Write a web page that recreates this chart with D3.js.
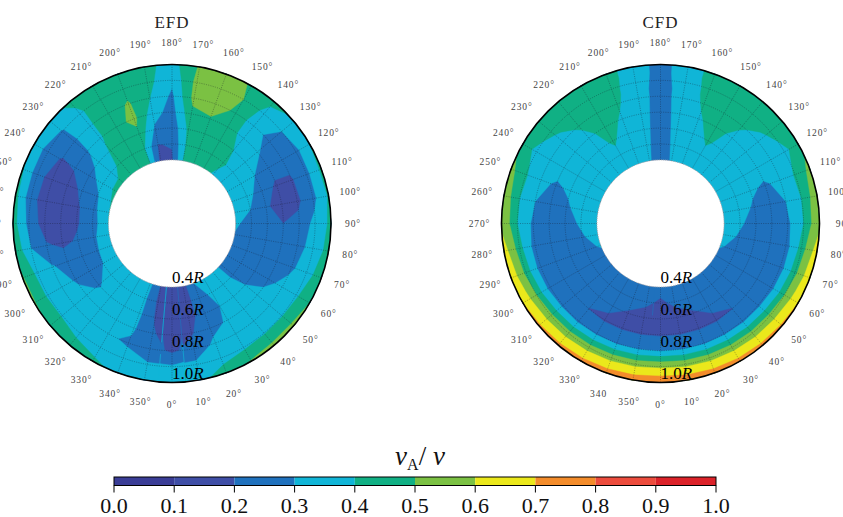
<!DOCTYPE html>
<html lang="en">
<head>
<meta charset="utf-8" />
<title>EFD / CFD polar contours</title>
<script src="https://cdn.jsdelivr.net/npm/d3@7"></script>
<style>
body { margin: 0; background: #fff; }
text { font-family: "Liberation Serif", "DejaVu Serif", serif; }
</style>
</head>
<body>
<script>

// angle of each column (0 at the bottom, counter-clockwise towards the right)
var angles = [0, 10, 20, 30, 40, 50, 60, 70, 80, 90, 100, 110, 120, 130, 140, 150, 160, 170,
              180, 190, 200, 210, 220, 230, 240, 250, 260, 270, 280, 290, 300, 310, 320, 330, 340, 350];

// EFD: one row per angle, values at radii 0.4R .. 1.0R
var efdRadii = [0.4, 0.5, 0.6, 0.7, 0.8, 0.9, 1.0];
var efdValues = [
  [0.15, 0.14, 0.14, 0.15, 0.18, 0.31, 0.36],  // 0
  [0.16, 0.16, 0.17, 0.19, 0.24, 0.32, 0.37],  // 10
  [0.30, 0.26, 0.24, 0.27, 0.32, 0.36, 0.45],  // 20
  [0.34, 0.32, 0.30, 0.31, 0.34, 0.38, 0.51],  // 30
  [0.36, 0.35, 0.35, 0.36, 0.37, 0.39, 0.53],  // 40
  [0.27, 0.28, 0.30, 0.33, 0.36, 0.39, 0.53],  // 50
  [0.24, 0.23, 0.24, 0.27, 0.33, 0.38, 0.50],  // 60
  [0.26, 0.22, 0.22, 0.23, 0.28, 0.36, 0.45],  // 70
  [0.29, 0.23, 0.21, 0.21, 0.26, 0.34, 0.43],  // 80
  [0.32, 0.25, 0.22, 0.20, 0.23, 0.33, 0.42],  // 90
  [0.36, 0.30, 0.21, 0.17, 0.18, 0.27, 0.41],  // 100
  [0.38, 0.33, 0.26, 0.18, 0.19, 0.27, 0.42],  // 110
  [0.40, 0.36, 0.30, 0.25, 0.23, 0.27, 0.40],  // 120
  [0.38, 0.37, 0.34, 0.31, 0.27, 0.30, 0.39],  // 130
  [0.39, 0.41, 0.40, 0.37, 0.34, 0.37, 0.42],  // 140
  [0.43, 0.45, 0.45, 0.44, 0.48, 0.50, 0.49],  // 150
  [0.44, 0.46, 0.47, 0.49, 0.55, 0.56, 0.55],  // 160
  [0.40, 0.40, 0.42, 0.47, 0.53, 0.53, 0.51],  // 170
  [0.18, 0.21, 0.23, 0.26, 0.28, 0.32, 0.36],  // 180
  [0.16, 0.195, 0.28, 0.34, 0.40, 0.43, 0.43], // 190
  [0.40, 0.40, 0.47, 0.53, 0.51, 0.46, 0.45],  // 200
  [0.42, 0.44, 0.46, 0.46, 0.45, 0.44, 0.44],  // 210
  [0.43, 0.42, 0.41, 0.39, 0.39, 0.39, 0.41],  // 220
  [0.42, 0.37, 0.32, 0.29, 0.28, 0.29, 0.38],  // 230
  [0.43, 0.33, 0.27, 0.21, 0.19, 0.25, 0.38],  // 240
  [0.41, 0.29, 0.22, 0.15, 0.15, 0.24, 0.41],  // 250
  [0.40, 0.27, 0.19, 0.13, 0.15, 0.23, 0.43],  // 260
  [0.40, 0.25, 0.19, 0.14, 0.15, 0.27, 0.44],  // 270
  [0.39, 0.28, 0.21, 0.18, 0.21, 0.30, 0.47],  // 280
  [0.38, 0.29, 0.24, 0.25, 0.31, 0.37, 0.51],  // 290
  [0.37, 0.30, 0.27, 0.29, 0.34, 0.38, 0.51],  // 300
  [0.38, 0.33, 0.29, 0.32, 0.35, 0.39, 0.49],  // 310
  [0.37, 0.35, 0.34, 0.33, 0.33, 0.37, 0.45],  // 320
  [0.36, 0.35, 0.34, 0.33, 0.31, 0.35, 0.42],  // 330
  [0.33, 0.32, 0.32, 0.31, 0.29, 0.33, 0.38],  // 340
  [0.19, 0.18, 0.19, 0.21, 0.24, 0.31, 0.36]   // 350
];

// CFD: finer rows near the wall
var cfdRadii = [0.4, 0.5, 0.6, 0.7, 0.8, 0.85, 0.9, 0.95, 1.0];
var cfdValues = [
  [0.22, 0.19, 0.17, 0.19, 0.29, 0.44, 0.58, 0.68, 0.78],   // 0
  [0.23, 0.21, 0.18, 0.19, 0.29, 0.43, 0.57, 0.67, 0.76],   // 10
  [0.24, 0.22, 0.195, 0.19, 0.28, 0.42, 0.56, 0.66, 0.75],  // 20
  [0.24, 0.23, 0.21, 0.19, 0.28, 0.41, 0.55, 0.65, 0.74],   // 30
  [0.25, 0.24, 0.23, 0.198, 0.27, 0.40, 0.54, 0.64, 0.73],  // 40
  [0.26, 0.25, 0.24, 0.23, 0.27, 0.39, 0.53, 0.63, 0.72],   // 50
  [0.27, 0.26, 0.25, 0.24, 0.26, 0.36, 0.50, 0.61, 0.70],   // 60
  [0.31, 0.27, 0.26, 0.25, 0.26, 0.34, 0.47, 0.58, 0.67],   // 70
  [0.34, 0.29, 0.26, 0.25, 0.27, 0.33, 0.44, 0.56, 0.64],   // 80
  [0.36, 0.31, 0.27, 0.25, 0.28, 0.34, 0.40, 0.50, 0.58],   // 90
  [0.38, 0.33, 0.29, 0.27, 0.30, 0.35, 0.40, 0.49, 0.56],   // 100
  [0.39, 0.35, 0.31, 0.29, 0.32, 0.36, 0.41, 0.47, 0.53],   // 110
  [0.39, 0.37, 0.35, 0.33, 0.34, 0.36, 0.38, 0.41, 0.47],   // 120
  [0.38, 0.37, 0.36, 0.35, 0.37, 0.39, 0.42, 0.44, 0.46],   // 130
  [0.37, 0.37, 0.37, 0.38, 0.41, 0.43, 0.44, 0.45, 0.46],   // 140
  [0.36, 0.38, 0.41, 0.43, 0.44, 0.45, 0.45, 0.45, 0.45],   // 150
  [0.35, 0.36, 0.37, 0.39, 0.41, 0.42, 0.42, 0.42, 0.42],   // 160
  [0.31, 0.32, 0.33, 0.34, 0.35, 0.35, 0.36, 0.37, 0.37],   // 170
  [0.25, 0.25, 0.25, 0.25, 0.25, 0.25, 0.25, 0.25, 0.25],   // 180
  [0.31, 0.32, 0.33, 0.34, 0.35, 0.35, 0.36, 0.37, 0.37],   // 190
  [0.35, 0.36, 0.37, 0.39, 0.41, 0.42, 0.42, 0.42, 0.42],   // 200
  [0.36, 0.38, 0.41, 0.43, 0.44, 0.45, 0.45, 0.45, 0.45],   // 210
  [0.37, 0.37, 0.37, 0.38, 0.41, 0.43, 0.44, 0.45, 0.46],   // 220
  [0.38, 0.37, 0.36, 0.35, 0.37, 0.39, 0.42, 0.44, 0.46],   // 230
  [0.39, 0.37, 0.35, 0.33, 0.34, 0.36, 0.38, 0.41, 0.47],   // 240
  [0.39, 0.35, 0.31, 0.29, 0.32, 0.36, 0.41, 0.47, 0.53],   // 250
  [0.38, 0.33, 0.29, 0.27, 0.30, 0.35, 0.40, 0.49, 0.56],   // 260
  [0.36, 0.31, 0.27, 0.25, 0.28, 0.34, 0.40, 0.50, 0.58],   // 270
  [0.34, 0.29, 0.26, 0.25, 0.27, 0.33, 0.44, 0.56, 0.64],   // 280
  [0.31, 0.27, 0.26, 0.25, 0.26, 0.34, 0.47, 0.58, 0.67],   // 290
  [0.27, 0.26, 0.25, 0.24, 0.26, 0.36, 0.50, 0.61, 0.70],   // 300
  [0.26, 0.25, 0.24, 0.23, 0.27, 0.39, 0.53, 0.63, 0.72],   // 310
  [0.25, 0.24, 0.23, 0.198, 0.27, 0.40, 0.54, 0.64, 0.73],  // 320
  [0.24, 0.23, 0.21, 0.19, 0.28, 0.41, 0.55, 0.65, 0.74],   // 330
  [0.24, 0.22, 0.195, 0.19, 0.28, 0.42, 0.56, 0.66, 0.75],  // 340
  [0.23, 0.21, 0.18, 0.19, 0.29, 0.43, 0.57, 0.67, 0.76]    // 350
];

// colour levels of the bar
var levels = [0.0, 0.1, 0.2, 0.3, 0.4, 0.5, 0.6, 0.7, 0.8, 0.9, 1.0];
var levelColors = ["#3a3d96", "#3f4ea6", "#1f71bd", "#10b5d7", "#10b084",
                   "#7bc143", "#ebe81b", "#f38c2b", "#ec4c3d", "#db2229"];
var tickLabels = ["0.0", "0.1", "0.2", "0.3", "0.4", "0.5", "0.6", "0.7", "0.8", "0.9", "1.0"];

var efdAngleLabels = ["0°", "10°", "20°", "30°", "40°", "50°", "60°", "70°", "80°", "90°",
  "100°", "110°", "120°", "130°", "140°", "150°", "160°", "170°", "180°", "190°", "200°",
  "210°", "220°", "230°", "240°", "250°", "260°", "270°", "280°", "290°", "300°", "310°",
  "320°", "330°", "340°", "350°"];
var cfdAngleLabels = ["0°", "10°", "20°", "30°", "40°", "50°", "60°", "70°", "80°", "90",
  "100°", "110°", "120°", "130°", "140°", "150°", "160°", "170°", "180°", "190°", "200°",
  "210°", "220°", "230°", "240°", "250°", "260°", "270°", "280°", "290°", "300°", "310°",
  "320°", "330°", "340", "350°"];
var radiusLabels = ["0.4", "0.6", "0.8", "1.0"];
var radiusLabelPos = [0.4, 0.6, 0.8, 1.0];
var meshRings = [0.5, 0.6, 0.7, 0.8, 0.9];

var w = 843, h = 517;
var R = 159;

var svg = d3.select("body")
    .append("svg")
    .attr("width", w)
    .attr("height", h);

function drawPolar(cx, cy, radii, values, angleLabels, title) {
  var g = svg.append("g");
  var pad = 2;                       // wrapped columns on each side
  var nA = angles.length, nR = radii.length;
  var dx = nA + 2 * pad + 1;

  // grid for d3.contours: x = angle column (wrapped), y = radius row
  var grid = new Array(dx * nR);
  for (var j = 0; j < nR; j++) {
    for (var i = 0; i < dx; i++) {
      var a = ((i - pad) % nA + nA) % nA;
      grid[j * dx + i] = values[a][j];
    }
  }

  var angScale = d3.scaleLinear()
      .domain([pad, pad + nA + 1])
      .range([-5, 365])
      .clamp(true);
  var radScale = d3.scaleLinear()
      .domain(radii.map(function(d, i) { return i + 0.5; }))
      .range(radii)
      .clamp(true);

  function project(p) {
    var t = angScale(p[0]) * Math.PI / 180;
    var r = radScale(p[1]) * R;
    return [cx + r * Math.sin(t), cy + r * Math.cos(t)];
  }
  function polar(deg, r) {
    var t = deg * Math.PI / 180;
    return [cx + r * Math.sin(t), cy + r * Math.cos(t)];
  }

  var bands = d3.contours()
      .size([dx, nR])
      .thresholds(levels.slice(0, levelColors.length))(grid);

  g.append("g").selectAll("path")
      .data(bands)
    .enter().append("path")
      .attr("d", function(c) {
        var s = "";
        c.coordinates.forEach(function(poly) {
          poly.forEach(function(ring) {
            s += "M" + ring.map(function(p) {
              var q = project(p);
              return q[0].toFixed(2) + "," + q[1].toFixed(2);
            }).join("L") + "Z";
          });
        });
        return s;
      })
      .attr("fill", function(c, i) { return levelColors[i]; })
      .attr("stroke", function(c, i) { return levelColors[i]; })
      .attr("stroke-width", 0.4);

  // dotted mesh
  var mesh = g.append("g")
      .attr("fill", "none")
      .attr("stroke", "#1a1a2a")
      .attr("stroke-width", 0.6)
      .attr("stroke-dasharray", "1,1.3")
      .attr("opacity", 0.6);
  mesh.selectAll("circle")
      .data(meshRings)
    .enter().append("circle")
      .attr("cx", cx).attr("cy", cy)
      .attr("r", function(d) { return d * R; });
  mesh.selectAll("line")
      .data(angles)
    .enter().append("line")
      .attr("x1", function(d) { return polar(d, 0.4 * R)[0]; })
      .attr("y1", function(d) { return polar(d, 0.4 * R)[1]; })
      .attr("x2", function(d) { return polar(d, R)[0]; })
      .attr("y2", function(d) { return polar(d, R)[1]; });

  // hole and wall
  g.append("circle")
      .attr("cx", cx).attr("cy", cy).attr("r", 0.4 * R)
      .attr("fill", "#fff")
      .attr("stroke", "#aaa")
      .attr("stroke-width", 1)
      .attr("stroke-dasharray", "1,1");
  g.append("circle")
      .attr("cx", cx).attr("cy", cy).attr("r", R)
      .attr("fill", "none")
      .attr("stroke", "#000")
      .attr("stroke-width", 1.6);

  // angle labels
  g.append("g").selectAll("text")
      .data(angles)
    .enter().append("text")
      .attr("x", function(d) { return polar(d, 181)[0]; })
      .attr("y", function(d) { return polar(d, 181)[1]; })
      .attr("text-anchor", "middle")
      .attr("dominant-baseline", "central")
      .attr("font-size", 9.5)
      .attr("letter-spacing", 0.9)
      .attr("fill", "#444")
      .text(function(d, i) { return angleLabels[i]; });

  // radius labels
  var rl = g.append("g").selectAll("text")
      .data(radiusLabels)
    .enter().append("text")
      .attr("x", cx)
      .attr("y", function(d, i) { return cy + radiusLabelPos[i] * R - 4; })
      .attr("font-size", 17)
      .attr("fill", "#000");
  rl.append("tspan").text(function(d) { return d; });
  rl.append("tspan").attr("font-style", "italic").text("R");

  g.append("text")
      .attr("x", cx)
      .attr("y", 28)
      .attr("text-anchor", "middle")
      .attr("font-size", 17)
      .attr("letter-spacing", 1)
      .attr("fill", "#222")
      .text(title);
}

drawPolar(172, 223.5, efdRadii, efdValues, efdAngleLabels, "EFD");
drawPolar(660.5, 223.5, cfdRadii, cfdValues, cfdAngleLabels, "CFD");

// colour bar
var barScale = d3.scaleLinear().domain([0, 1]).range([114, 716]);
var barTop = 477, barH = 8.5;
var bar = svg.append("g");
bar.selectAll("rect.band")
    .data(levelColors)
  .enter().append("rect")
    .attr("class", "band")
    .attr("x", function(d, i) { return barScale(levels[i]); })
    .attr("y", barTop)
    .attr("width", function(d, i) { return barScale(levels[i + 1]) - barScale(levels[i]); })
    .attr("height", barH)
    .attr("fill", function(d) { return d; });
bar.append("rect")
    .attr("x", barScale(0)).attr("y", barTop)
    .attr("width", barScale(1) - barScale(0)).attr("height", barH)
    .attr("fill", "none").attr("stroke", "#000").attr("stroke-width", 1);
bar.selectAll("line")
    .data(levels)
  .enter().append("line")
    .attr("x1", function(d) { return barScale(d); })
    .attr("x2", function(d) { return barScale(d); })
    .attr("y1", barTop + barH)
    .attr("y2", barTop + barH + 7)
    .attr("stroke", "#000")
    .attr("stroke-width", 1);
bar.selectAll("text.tick")
    .data(levels)
  .enter().append("text")
    .attr("class", "tick")
    .attr("x", function(d) { return barScale(d); })
    .attr("y", 513)
    .attr("text-anchor", "middle")
    .attr("font-size", 22)
    .attr("fill", "#111")
    .text(function(d, i) { return tickLabels[i]; });

var lab = svg.append("text")
    .attr("x", 420)
    .attr("y", 465)
    .attr("text-anchor", "middle")
    .attr("font-size", 27)
    .attr("fill", "#111");
lab.append("tspan").attr("font-style", "italic").text("v");
lab.append("tspan").attr("font-size", 16).attr("dy", 5).text("A");
lab.append("tspan").attr("dy", -5).text("/");
lab.append("tspan").attr("font-style", "italic").text(" v");

</script>
</body>
</html>
